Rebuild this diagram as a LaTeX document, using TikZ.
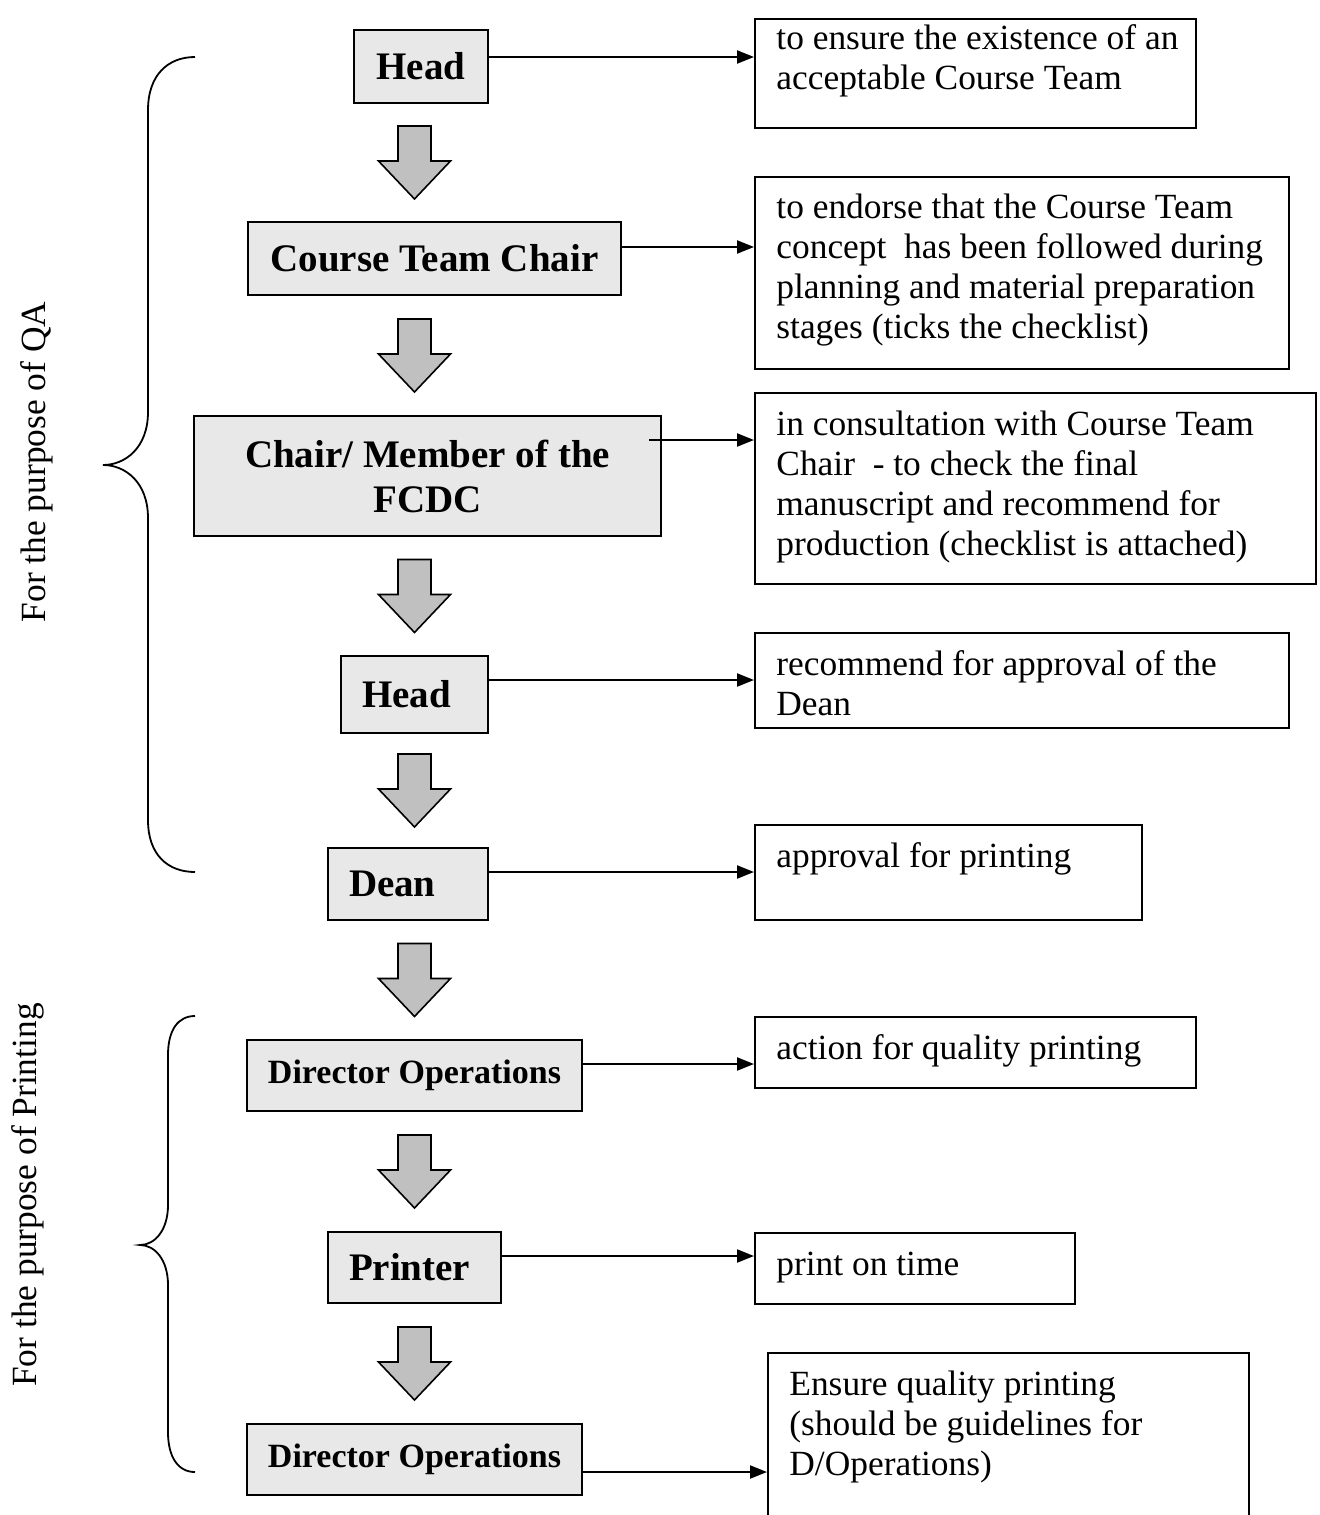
\documentclass[tikz,border=0pt]{standalone}
\usepackage{fontspec}
\setmainfont{Liberation Serif}
\usetikzlibrary{calc,arrows.meta}
\definecolor{boxgray}{HTML}{E8E8E8}
\definecolor{arrgray}{HTML}{C0C0C0}
\tikzset{
 lbox/.style={draw, line width=1pt, fill=boxgray, inner xsep=10.5pt, inner ysep=0pt, font=\fontsize{19.5}{22.5}\selectfont\bfseries},
 rbox/.style={draw, line width=1pt, fill=white, inner sep=0pt, anchor=north west},
 rtext/.style={inner sep=0pt, anchor=north west, align=left, font=\fontsize{17.7}{20}\selectfont},
 conn/.style={line width=1.1pt, -{Triangle[length=8.5pt,width=6.5pt]}},
 bracepath/.style={line width=0.9pt},
 side/.style={rotate=90, font=\fontsize{17.7}{20}\selectfont, inner sep=0pt},
 darrow/.pic={\draw[line width=0.8pt, fill=arrgray] (-16.5,-36.5) -- (16.5,-36.5) -- (16.5,-1.5) -- (36,-1.5) -- (0,36.5) -- (-36,-1.5) -- (-16.5,-1.5) -- cycle;}
}
\newcommand{\dirops}{{\fontsize{17}{20}\selectfont\bfseries Director Operations}}
\begin{document}
\begin{tikzpicture}[x=0.5pt,y=-0.5pt]
\useasboundingbox (0,0) rectangle (1320,1515);
\clip (0,0) rectangle (1320,1515);
\coordinate (ax) at (414.5,0);
% left boxes
\node[lbox, minimum width=67pt, minimum height=36.5pt] (h1) at (421,66.5) {Head};
\node[lbox, minimum width=186.5pt, minimum height=36.5pt] (ctc) at (434.5,258.5) {Course Team Chair};
\node[lbox, minimum width=233.5pt, minimum height=60pt, align=center] (fc) at (427.5,476) {Chair/ Member of the\\FCDC};
\node[lbox, text width=52.5pt, align=left, minimum height=38.5pt] (h2) at (414.5,694.5) {Head};
\node[lbox, text width=59pt, align=left, minimum height=36pt] (dean) at (408,884) {Dean};
\node[lbox, minimum width=166.5pt, minimum height=35.5pt] (do1) at (414.5,1075.5) {\dirops};
\node[lbox, text width=65.5pt, align=left, minimum height=35.5pt] (pr) at (414.5,1267.5) {Printer};
\node[lbox, minimum width=166.5pt, minimum height=35.5pt] (do2) at (414.5,1459.5) {\dirops};
% block arrows
\pic at ($(h1.south -| ax)!0.5!(ctc.north -| ax)$) {darrow};
\pic at ($(ctc.south -| ax)!0.5!(fc.north -| ax)$) {darrow};
\pic at ($(fc.south -| ax)!0.5!(h2.north -| ax)$) {darrow};
\pic at ($(h2.south -| ax)!0.5!(dean.north -| ax)$) {darrow};
\pic at ($(dean.south -| ax)!0.5!(do1.north -| ax)$) {darrow};
\pic at ($(do1.south -| ax)!0.5!(pr.north -| ax)$) {darrow};
\pic at ($(pr.south -| ax)!0.5!(do2.north -| ax)$) {darrow};
% right boxes
\node[rbox, minimum width=220.5pt, minimum height=54.5pt] (r1) at (754,18) {};
\node[rbox, minimum width=267pt, minimum height=96pt] (r2) at (754,176) {};
\node[rbox, minimum width=280.5pt, minimum height=95.5pt] (r3) at (754,392) {};
\node[rbox, minimum width=267pt, minimum height=47.5pt] (r4) at (754,632) {};
\node[rbox, minimum width=193.5pt, minimum height=47.5pt] (r5) at (754,824) {};
\node[rbox, minimum width=220.5pt, minimum height=35.5pt] (r6) at (754,1016) {};
\node[rbox, minimum width=160pt, minimum height=35.5pt] (r7) at (754,1232) {};
\node[rbox, minimum width=240.5pt, minimum height=95pt] (r8) at (767,1352) {};
\node[rtext] (r1t) at ([xshift=11pt,yshift=-1.5pt]r1.north west) {\strut to ensure the existence of an\\acceptable Course Team};
\node[rtext] (r2t) at ([xshift=11pt,yshift=-7pt]r2.north west) {\strut to endorse that the Course Team\\concept\ \ has been followed during\\planning and material preparation\\stages (ticks the checklist)};
\node[rtext] (r3t) at ([xshift=11pt,yshift=-7.5pt]r3.north west) {\strut in consultation with Course Team\\Chair\ \ - to check the final\\manuscript and recommend for\\production (checklist is attached)};
\node[rtext] (r4t) at ([xshift=11pt,yshift=-7.5pt]r4.north west) {\strut recommend for approval of the\\Dean};
\node[rtext] (r5t) at ([xshift=11pt,yshift=-7.5pt]r5.north west) {\strut approval for printing};
\node[rtext] (r6t) at ([xshift=11pt,yshift=-7.5pt]r6.north west) {\strut action for quality printing};
\node[rtext] (r7t) at ([xshift=11pt,yshift=-7.5pt]r7.north west) {\strut print on time};
\node[rtext] (r8t) at ([xshift=11pt,yshift=-7.5pt]r8.north west) {\strut Ensure quality printing\\(should be guidelines for\\D/Operations)};
% connectors
\draw[conn] ([yshift=4.75pt]h1.east) -- ([yshift=4.75pt]h1.east -| r1.west);
\draw[conn] ([yshift=5.75pt]ctc.east) -- ([yshift=5.75pt]ctc.east -| r2.west);
\draw[conn] ([xshift=-6.5pt,yshift=18pt]fc.east) -- ([yshift=18pt]fc.east -| r3.west);
\draw[conn] ([yshift=7.25pt]h2.east) -- ([yshift=7.25pt]h2.east -| r4.west);
\draw[conn] ([yshift=6pt]dean.east) -- ([yshift=6pt]dean.east -| r5.west);
\draw[conn] ([yshift=5.75pt]do1.east) -- ([yshift=5.75pt]do1.east -| r6.west);
\draw[conn] ([yshift=5.75pt]pr.east) -- ([yshift=5.75pt]pr.east -| r7.west);
\draw[conn] ([yshift=-6.25pt]do2.east) -- ([yshift=-6.25pt]do2.east -| r8.west);
% braces
\draw[bracepath] (195,57) .. controls (168,57) and (148,75) .. (148,110) -- (148,412) .. controls (148,448) and (125,465) .. (103,465) .. controls (125,465) and (148,482) .. (148,518) -- (148,820) .. controls (148,855) and (168,872) .. (195,872);
\draw[bracepath] (195,1016) .. controls (178,1016) and (168,1030) .. (168,1055) -- (168,1205) .. controls (168,1230) and (155,1245) .. (140,1245) .. controls (155,1245) and (168,1260) .. (168,1285) -- (168,1432) .. controls (168,1457) and (178,1472) .. (195,1472);
\node[side] (qa) at (37,462) {For the purpose of QA};
\node[side] (pp) at (28,1195) {For the purpose of Printing};
\end{tikzpicture}
\end{document}
